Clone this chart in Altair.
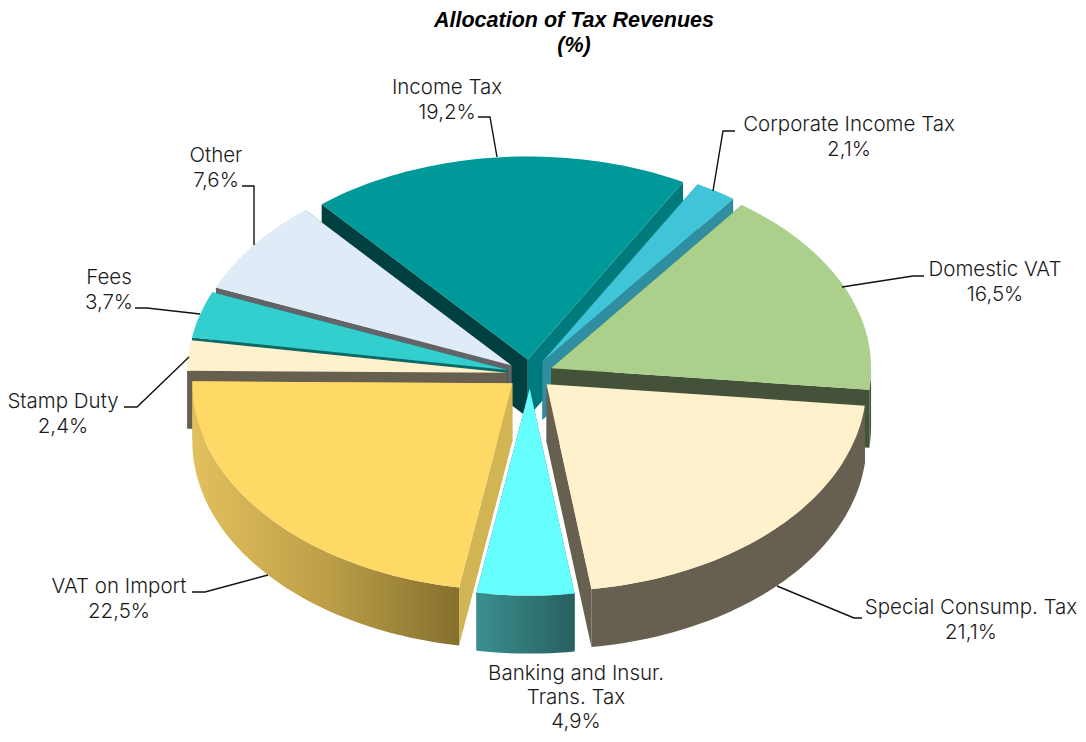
import math
import altair as alt
import pandas as pd

# ---- data ----
names = ["Income Tax", "Corporate Income Tax", "Domestic VAT", "Special Consump. Tax",
         "Banking and Insur. Trans. Tax", "VAT on Import", "Stamp Duty", "Fees", "Other"]
shares = [19.2, 2.1, 16.5, 21.1, 4.9, 22.5, 2.4, 3.7, 7.6]
share_text = ["19,2%", "2,1%", "16,5%", "21,1%", "4,9%", "22,5%", "2,4%", "3,7%", "7,6%"]
label_lines = [["Income Tax"], ["Corporate Income Tax"], ["Domestic VAT"], ["Special Consump. Tax"],
               ["Banking and Insur.", "Trans. Tax"], ["VAT on Import"], ["Stamp Duty"], ["Fees"], ["Other"]]

# ---- styling / layout ----
top_col = ["#009999", "#40c4d8", "#abd08c", "#fff1cc", "#66ffff", "#ffd966", "#fff1cc", "#33cfcf", "#dfebf7"]
start_wall = ["#004040", "#1f7f8f", "#44523a", "#676050", "#2f7070", "#d0b552", "#676050", "#0a6a68", "#636468"]
end_wall = ["#007a7a", "#2f8fa0", "#44523a", "#676050", "#2f7070", "#d0b552", "#676050", "#0a6a68", "#636468"]
outer_fill = ["#004040", "#1f7f8f", "#44523a", "#676050",
              alt.Gradient(gradient="linear", x1=0, x2=1, y1=0, y2=0,
                           stops=[alt.GradientStop(offset=0, color="#3a8f90"), alt.GradientStop(offset=1, color="#296060")]),
              alt.Gradient(gradient="linear", x1=0, x2=1, y1=0, y2=0,
                           stops=[alt.GradientStop(offset=0, color="#e2c05e"), alt.GradientStop(offset=0.5, color="#bd9f48"),
                                  alt.GradientStop(offset=1, color="#85702e")]),
              "#676050", "#0a6a68", "#636468"]
paint_order = [0, 1, 8, 2, 7, 6, 5, 3, 4]
CX, CY, RX, RY, RY_FRONT, EXPLODE, DEPTH, START = 530, 374, 320, 203, 207, 23, 58, -40.1

label_x = [447, 849, 995, 971, 576, 119, 63, 109, 216]
label_y = [88, 125, 270, 608, 674, 587, 402, 278, 156]
line_step = [25, 25, 25, 25, 24, 25, 25, 25, 25]
leaders = {0: [(497, 157), (490, 117), (478, 117)],
           1: [(713, 191), (723, 131), (735, 131)],
           2: [(842, 287), (913, 276), (924, 276)],
           3: [(777, 586), (854, 618), (862, 618)],
           5: [(268, 575), (205, 592), (192, 592)],
           6: [(189, 357), (137, 407), (124, 407)],
           7: [(200, 314), (147, 308), (135, 308)],
           8: [(254, 245), (254, 186), (242, 186)]}

FONT = "Inter"
FS = 20.5
W, H = 1070, 726
xs = alt.Scale(domain=[8, 8 + W], nice=False, zero=False)
ys = alt.Scale(domain=[8 + H, 8], nice=False, zero=False)


def rim(ax, ay, th, dy=0):
    c = math.cos(math.radians(th))
    r = RY_FRONT if c < 0 else RY
    return ax + RX * math.sin(math.radians(th)), ay - r * c + dy


def poly(points, fill):
    pts = list(points) + [points[0]]
    df = pd.DataFrame({"x": [p[0] for p in pts], "y": [p[1] for p in pts], "i": range(len(pts))})
    return alt.Chart(df).mark_line(fill=fill, stroke="transparent", strokeWidth=0, interpolate="linear").encode(
        x=alt.X("x:Q", scale=xs, axis=None),
        y=alt.Y("y:Q", scale=ys, axis=None),
        order="i:Q")


def arc_angles(a, b):
    n = max(2, int((b - a) / 1.5) + 1)
    return [a + (b - a) * k / n for k in range(n + 1)]


layers = []
edges = [START]
for s in shares:
    edges.append(edges[-1] + s * 3.6)

for idx in paint_order:
    a, b = edges[idx], edges[idx + 1]
    mid = (a + b) / 2
    ax = CX + EXPLODE * math.sin(math.radians(mid))
    ay = CY - EXPLODE * RY / RX * math.cos(math.radians(mid))
    pa, pb = rim(ax, ay, a), rim(ax, ay, b)
    layers.append(poly([(ax, ay), pa, (pa[0], pa[1] + DEPTH), (ax, ay + DEPTH)], start_wall[idx]))
    layers.append(poly([(ax, ay), pb, (pb[0], pb[1] + DEPTH), (ax, ay + DEPTH)], end_wall[idx]))
    lo, hi = max(a, 90), min(b, 270)
    if hi > lo:
        ang = arc_angles(lo, hi)
        layers.append(poly([rim(ax, ay, t) for t in ang] + [rim(ax, ay, t, DEPTH) for t in reversed(ang)], outer_fill[idx]))
    layers.append(poly([(ax, ay)] + [rim(ax, ay, t) for t in arc_angles(a, b)], top_col[idx]))

for idx, pts in leaders.items():
    df = pd.DataFrame({"x": [p[0] for p in pts], "y": [p[1] for p in pts], "i": range(len(pts))})
    layers.append(alt.Chart(df).mark_line(color="#111111", strokeWidth=1.4).encode(
        x=alt.X("x:Q", scale=xs, axis=None), y=alt.Y("y:Q", scale=ys, axis=None), order="i:Q"))

rows = []
for i in range(len(names)):
    lines = label_lines[i] + [share_text[i]]
    for k, t in enumerate(lines):
        rows.append({"x": label_x[i], "y": label_y[i] + k * line_step[i], "t": t})
layers.append(alt.Chart(pd.DataFrame(rows)).mark_text(font=FONT, fontSize=FS, fontWeight=300, color="#1a1a1a", align="center", baseline="middle").encode(
    x=alt.X("x:Q", scale=xs, axis=None), y=alt.Y("y:Q", scale=ys, axis=None), text="t:N"))

title_df = pd.DataFrame({"x": [574, 574], "y": [20.5, 46], "t": ["Allocation of Tax Revenues", "(%)"]})
layers.append(alt.Chart(title_df).mark_text(font="Liberation Sans", fontSize=21.5, fontWeight="bold", fontStyle="italic",
                                            color="#000000", align="center", baseline="middle").encode(
    x=alt.X("x:Q", scale=xs, axis=None), y=alt.Y("y:Q", scale=ys, axis=None), text="t:N"))

chart = alt.layer(*layers).properties(
    width=W, height=H, padding=0, autosize=alt.AutoSizeParams(type="none")
).configure_view(stroke=None)
chart.save("out.html", embed_options={"renderer": "svg", "actions": False})
